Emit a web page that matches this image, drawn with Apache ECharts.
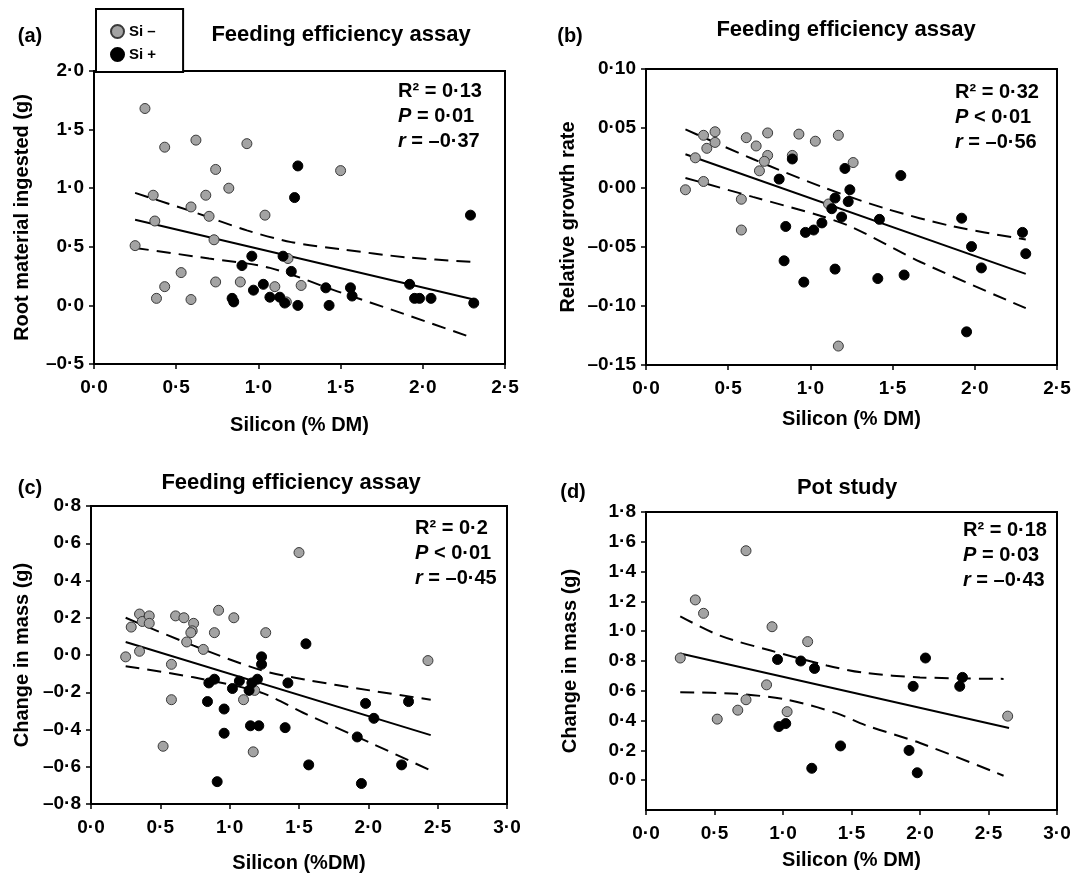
<!DOCTYPE html>
<html>
<head>
<meta charset="utf-8">
<script src="https://cdn.jsdelivr.net/npm/echarts@6/dist/echarts.min.js"></script>
<style>
  html, body { margin: 0; padding: 0; background: #fff; }
  #chart { width: 1081px; height: 874px; }
</style>
</head>
<body>
<div id="chart"></div>
<script>
// panel (a) root material ingested
const aSiMinus = [[0.31,1.68],[0.43,1.35],[0.62,1.41],[0.93,1.38],[0.74,1.16],[0.82,1.00],[0.36,0.94],[0.68,0.94],[0.59,0.84],[0.70,0.76],[1.04,0.77],[0.37,0.72],[0.73,0.56],[0.25,0.51],[0.53,0.28],[0.43,0.16],[0.38,0.06],[0.59,0.05],[0.74,0.20],[0.89,0.20],[1.10,0.16],[1.18,0.40],[1.17,0.03],[1.50,1.15],[1.26,0.17]]
const aSiPlus = [[0.96,0.42],[0.90,0.34],[1.03,0.18],[0.97,0.13],[1.07,0.07],[0.84,0.06],[0.85,0.03],[1.13,0.07],[1.15,0.42],[1.20,0.29],[1.16,0.02],[1.24,0.00],[1.24,1.19],[1.22,0.92],[1.41,0.15],[1.43,0.00],[1.56,0.15],[1.57,0.08],[1.92,0.18],[1.95,0.06],[1.98,0.06],[2.05,0.06],[2.29,0.77],[2.31,0.02]]
const aFit = [[0.25,0.73],[2.31,0.05]]
const aUpper = [[0.25,0.96],[0.60,0.80],[0.93,0.64],[1.20,0.54],[1.50,0.48],[1.90,0.41],[2.31,0.37]]
const aLower = [[0.25,0.49],[0.70,0.40],[1.07,0.32],[1.48,0.12],[1.88,-0.07],[2.31,-0.28]]

// panel (b) relative growth rate
const bSiMinus = [[0.24,-0.002],[0.30,0.025],[0.35,0.044],[0.42,0.047],[0.37,0.033],[0.42,0.038],[0.35,0.005],[0.61,0.042],[0.67,0.035],[0.74,0.046],[0.74,0.027],[0.72,0.022],[0.69,0.014],[0.93,0.045],[0.89,0.027],[1.03,0.039],[1.17,0.044],[0.58,-0.010],[0.58,-0.036],[1.11,-0.014],[1.17,-0.134],[1.26,0.021]]
const bSiPlus = [[0.89,0.024],[0.81,0.007],[0.85,-0.033],[0.84,-0.062],[0.96,-0.080],[0.97,-0.038],[1.02,-0.036],[1.07,-0.030],[1.15,-0.069],[1.15,-0.009],[1.13,-0.018],[1.21,0.016],[1.55,0.010],[1.24,-0.002],[1.23,-0.012],[1.19,-0.025],[1.42,-0.027],[1.41,-0.077],[1.57,-0.074],[1.92,-0.026],[1.98,-0.050],[2.04,-0.068],[1.95,-0.122],[2.29,-0.038],[2.31,-0.056]]
const bFit = [[0.24,0.028],[2.31,-0.073]]
const bUpper = [[0.24,0.049],[0.65,0.024],[1.06,0.001],[1.46,-0.018],[1.87,-0.033],[2.31,-0.044]]
const bLower = [[0.24,0.008],[0.65,-0.008],[1.06,-0.024],[1.26,-0.034],[1.67,-0.063],[2.31,-0.102]]

// panel (c) change in mass, feeding assay
const cSiMinus = [[0.25,-0.01],[0.29,0.15],[0.35,0.22],[0.37,0.18],[0.42,0.21],[0.42,0.17],[0.35,0.02],[0.58,-0.05],[0.58,-0.24],[0.52,-0.49],[0.61,0.21],[0.67,0.20],[0.74,0.17],[0.73,0.13],[0.72,0.12],[0.69,0.07],[0.81,0.03],[0.92,0.24],[0.89,0.12],[1.03,0.20],[1.26,0.12],[1.10,-0.24],[1.18,-0.19],[1.17,-0.52],[1.50,0.55],[2.43,-0.03]]
const cSiPlus = [[0.89,-0.13],[0.85,-0.15],[0.84,-0.25],[0.96,-0.29],[0.96,-0.42],[0.91,-0.68],[1.02,-0.18],[1.07,-0.14],[1.14,-0.19],[1.16,-0.15],[1.20,-0.13],[1.23,-0.01],[1.23,-0.05],[1.15,-0.38],[1.21,-0.38],[1.40,-0.39],[1.42,-0.15],[1.55,0.06],[1.57,-0.59],[1.98,-0.26],[2.04,-0.34],[1.92,-0.44],[1.95,-0.69],[2.29,-0.25],[2.24,-0.59]]
const cFit = [[0.25,0.07],[2.45,-0.43]]
const cUpper = [[0.25,0.20],[0.74,0.05],[1.22,-0.08],[1.53,-0.13],[2.01,-0.19],[2.45,-0.24]]
const cLower = [[0.25,-0.06],[0.74,-0.12],[1.22,-0.20],[1.53,-0.31],[2.01,-0.47],[2.45,-0.62]]

// panel (d) pot study
const dSiMinus = [[0.25,0.82],[0.36,1.21],[0.42,1.12],[0.73,1.54],[0.92,1.03],[1.18,0.93],[0.88,0.64],[0.73,0.54],[0.67,0.47],[0.52,0.41],[1.03,0.46],[2.64,0.43]]
const dSiPlus = [[0.96,0.81],[1.13,0.80],[1.23,0.75],[0.97,0.36],[1.02,0.38],[1.21,0.08],[1.42,0.23],[2.04,0.82],[1.95,0.63],[2.31,0.69],[2.29,0.63],[1.92,0.20],[1.98,0.05]]
const dFit = [[0.25,0.85],[2.65,0.35]]
const dUpper = [[0.25,1.10],[0.54,0.97],[0.91,0.87],[1.32,0.77],[1.60,0.72],[2.00,0.69],[2.61,0.68]]
const dLower = [[0.25,0.59],[0.66,0.58],[1.03,0.54],[1.39,0.45],[1.60,0.37],[2.00,0.25],[2.61,0.03]]

// axis ranges [min, max, interval, decimals]
const aXRange = [0, 2.5, 0.5, 1]
const aYRange = [-0.5, 2.0, 0.5, 1]
const bXRange = [0, 2.5, 0.5, 1]
const bYRange = [-0.15, 0.10, 0.05, 2]
const cXRange = [0, 3.0, 0.5, 1]
const cYRange = [-0.8, 0.8, 0.2, 1]
const dXRange = [0, 3.0, 0.5, 1]
const dYRange = [-0.2, 1.8, 0.2, 1]

const panelLetters = ['(a)', '(b)', '(c)', '(d)']
const panelTitles = ['Feeding efficiency assay', 'Feeding efficiency assay', 'Feeding efficiency assay', 'Pot study']
const yNames = ['Root material ingested (g)', 'Relative growth rate', 'Change in mass (g)', 'Change in mass (g)']
const xNames = ['Silicon (% DM)', 'Silicon (% DM)', 'Silicon (%DM)', 'Silicon (% DM)']
const r2Texts = ['0·13', '0·32', '0·2', '0·18']
const pTexts = ['= 0·01', '< 0·01', '< 0·01', '= 0·03']
const rTexts = ['–0·37', '–0·56', '–0·45', '–0·43']

const FONT = '"Liberation Sans", Arial, sans-serif'
const chart = echarts.init(document.getElementById('chart'))

const fmt = (d) => (v) => (v < 0 ? '–' : '') + Math.abs(v).toFixed(d).replace('.', '·')

const grids = [
  { left: 94, top: 71, width: 411, height: 293 },
  { left: 646, top: 69, width: 411, height: 296 },
  { left: 91, top: 506, width: 416, height: 298 },
  { left: 646, top: 512, width: 411, height: 298 }
]
const xRanges = [aXRange, bXRange, cXRange, dXRange]
const yRanges = [aYRange, bYRange, cYRange, dYRange]
const xNameGaps = [51, 44, 49, 40]
const yNameGaps = [62, 68, 59, 66]

const axisCommon = {
  axisLine: { onZero: false, lineStyle: { color: '#000', width: 2 } },
  axisTick: { show: true, length: 5, lineStyle: { color: '#000', width: 1.5 } },
  splitLine: { show: false },
  nameLocation: 'middle',
  nameTextStyle: { color: '#000', fontSize: 20, fontWeight: 'bold', fontFamily: FONT }
}

const xAxis = xRanges.map((r, i) => ({
  ...axisCommon,
  type: 'value',
  gridIndex: i,
  min: r[0],
  max: r[1],
  interval: r[2],
  name: xNames[i],
  nameGap: xNameGaps[i],
  axisLabel: { color: '#000', fontSize: 19, fontWeight: 'bold', fontFamily: FONT, margin: 14, formatter: fmt(r[3]) }
}))

const yAxis = yRanges.map((r, i) => ({
  ...axisCommon,
  type: 'value',
  gridIndex: i,
  min: r[0],
  max: r[1],
  interval: r[2],
  name: yNames[i],
  nameGap: yNameGaps[i],
  axisLabel: {
    color: '#000', fontSize: 19, fontWeight: 'bold', fontFamily: FONT, margin: 10,
    showMinLabel: i !== 3,
    formatter: fmt(r[3])
  }
}))

const panels = [
  [aSiMinus, aSiPlus, aFit, aUpper, aLower],
  [bSiMinus, bSiPlus, bFit, bUpper, bLower],
  [cSiMinus, cSiPlus, cFit, cUpper, cLower],
  [dSiMinus, dSiPlus, dFit, dUpper, dLower]
]

const series = []
panels.forEach((p, i) => {
  const [minus, plus, fit, upper, lower] = p
  series.push({
    type: 'line', xAxisIndex: i, yAxisIndex: i, data: fit, symbol: 'none', silent: true, z: 1,
    lineStyle: { color: '#000', width: 2 }
  })
  ;[upper, lower].forEach((band) => {
    series.push({
      type: 'line', xAxisIndex: i, yAxisIndex: i, data: band, symbol: 'none', silent: true, z: 1, smooth: 0.3,
      lineStyle: { color: '#000', width: 2, type: [14, 8] }
    })
  })
  series.push({
    name: 'Si –', type: 'scatter', xAxisIndex: i, yAxisIndex: i, data: minus, symbolSize: 10, z: 3,
    itemStyle: { color: '#a3a3a3', borderColor: '#3a3a3a', borderWidth: 1, opacity: 1 }
  })
  series.push({
    name: 'Si +', type: 'scatter', xAxisIndex: i, yAxisIndex: i, data: plus, symbolSize: 10, z: 3,
    itemStyle: { color: '#000', borderColor: '#000', borderWidth: 1, opacity: 1 }
  })
})

// panel letters, titles and stats
const letterPos = [[30, 36], [570, 36], [30, 488], [573, 492]]
const titlePos = [[341, 35], [846, 30], [291, 483], [847, 488]]
const statPos = [[398, 91], [955, 92], [415, 528], [963, 530]]
const txt = (text, x, y, size, align) => ({
  type: 'text', x, y, silent: true,
  style: { text, fill: '#000', fontSize: size, fontWeight: 'bold', fontFamily: FONT, align: align || 'center', verticalAlign: 'middle' }
})
const rich = {
  n: { fontSize: 20, fontWeight: 'bold', fontFamily: FONT, fill: '#000' },
  i: { fontSize: 20, fontWeight: 'bold', fontStyle: 'italic', fontFamily: FONT, fill: '#000' }
}
const graphic = []
for (let i = 0; i < 4; i++) {
  graphic.push(txt(panelLetters[i], letterPos[i][0], letterPos[i][1], 20))
  graphic.push(txt(panelTitles[i], titlePos[i][0], titlePos[i][1], 22))
  const [sx, sy] = statPos[i]
  graphic.push(txt('R² = ' + r2Texts[i], sx, sy, 20, 'left'))
  graphic.push({
    type: 'text', x: sx, y: sy + 25, silent: true,
    style: { text: '{i|P}{n| ' + pTexts[i] + '}', rich, fill: '#000', fontSize: 20, fontWeight: 'bold', fontFamily: FONT, align: 'left', verticalAlign: 'middle' }
  })
  graphic.push({
    type: 'text', x: sx, y: sy + 50, silent: true,
    style: { text: '{i|r}{n| = ' + rTexts[i] + '}', rich, fill: '#000', fontSize: 20, fontWeight: 'bold', fontFamily: FONT, align: 'left', verticalAlign: 'middle' }
  })
}

const option = {
  animation: false,
  backgroundColor: '#fff',
  grid: grids.map((g) => ({ ...g, show: true, borderColor: '#000', borderWidth: 2, backgroundColor: 'transparent' })),
  legend: {
    data: ['Si –', 'Si +'],
    orient: 'vertical',
    left: 96,
    top: 9,
    padding: [15, 27, 10, 14],
    itemGap: 8,
    itemWidth: 13,
    itemHeight: 13,
    borderColor: '#000',
    borderWidth: 2,
    backgroundColor: '#fff',
    textStyle: { color: '#000', fontSize: 15, fontWeight: 'bold', fontFamily: FONT }
  },
  xAxis,
  yAxis,
  series,
  graphic
}

chart.setOption(option)
</script>
</body>
</html>
